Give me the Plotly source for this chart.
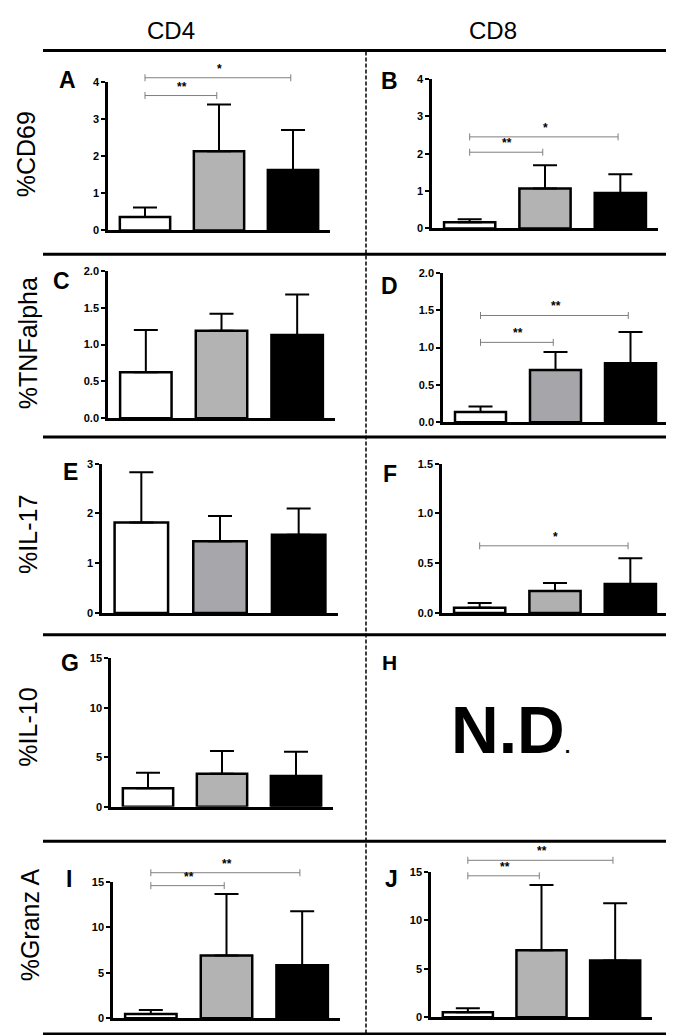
import plotly.graph_objects as go

W, H = 674, 1035

# ---------------- data ----------------
groups = ["Group 1", "Group 2", "Group 3"]
col_headers = ["CD4", "CD8"]
row_titles = ["%CD69", "%TNFalpha", "%IL-17", "%IL-10", "%Granz A"]

# CD69
cd69_cd4_mean = [0.36, 2.14, 1.63]
cd69_cd4_err = [0.26, 1.26, 1.08]
cd69_cd8_mean = [0.17, 1.07, 0.95]
cd69_cd8_err = [0.08, 0.62, 0.50]
# TNFalpha
tnf_cd4_mean = [0.625, 1.19, 1.13]
tnf_cd4_err = [0.575, 0.23, 0.55]
tnf_cd8_mean = [0.137, 0.70, 0.79]
tnf_cd8_err = [0.073, 0.24, 0.42]
# IL-17
il17_cd4_mean = [1.82, 1.44, 1.57]
il17_cd4_err = [1.01, 0.51, 0.53]
il17_cd8_mean = [0.053, 0.22, 0.29]
il17_cd8_err = [0.047, 0.08, 0.26]
# IL-10 (CD8 not determined)
il10_cd4_mean = [1.87, 3.33, 3.10]
il10_cd4_err = [1.56, 2.30, 2.47]
# Granzyme A
granz_cd4_mean = [0.47, 6.90, 5.82]
granz_cd4_err = [0.43, 6.77, 5.93]
granz_cd8_mean = [0.51, 6.92, 5.86]
granz_cd8_err = [0.41, 6.72, 5.90]

# significance brackets: (group i, group j, level, label)
sig_A = [(0, 1, 3.64, "**"), (0, 2, 4.12, "*")]
sig_B = [(0, 1, 2.04, "**"), (0, 2, 2.45, "*")]
sig_D = [(0, 1, 1.07, "**"), (0, 2, 1.43, "**")]
sig_F = [(0, 2, 0.675, "*")]
sig_I = [(0, 1, 14.58, "**"), (0, 2, 16.0, "**")]
sig_J = [(0, 1, 14.6, "**"), (0, 2, 16.2, "**")]

# ---------------- layout of panels (pixels) ----------------
panels = [
    ("A", cd69_cd4_mean, cd69_cd4_err, sig_A, "#b3b3b3", 100, 322, 219, 69, 4, 1, "d", 40, (59, 67)),
    ("B", cd69_cd8_mean, cd69_cd8_err, sig_B, "#b3b3b3", 424, 650, 217, 65.7, 4, 1, "d", 40, (381, 68)),
    ("C", tnf_cd4_mean, tnf_cd4_err, [], "#b3b3b3", 100, 327, 409, 260, 2, 0.5, ".1f", 246, (53, 270)),
    ("D", tnf_cd8_mean, tnf_cd8_err, sig_D, "#a5a5aa", 435, 660, 413, 262, 2, 0.5, ".1f", 246, (381, 275)),
    ("E", il17_cd4_mean, il17_cd4_err, [], "#a7a7ab", 94, 330, 606, 455, 3, 1, "d", 432, (63, 463)),
    ("F", il17_cd8_mean, il17_cd8_err, sig_F, "#b0b0b0", 434, 660, 606, 455, 1.5, 0.5, ".1f", 432, (382, 465)),
    ("G", il10_cd4_mean, il10_cd4_err, [], "#b3b3b3", 103, 325, 802, 652, 15, 5, "d", 631, (62, 657)),
    ("I", granz_cd4_mean, granz_cd4_err, sig_I, "#b3b3b3", 105, 332, 1016, 878, 15, 5, "d", 841, (61, 875)),
    ("J", granz_cd8_mean, granz_cd8_err, sig_J, "#b3b3b3", 423, 644, 1015, 868, 15, 5, "d", 841, (383, 875)),
]

FONT = "Liberation Sans, Arial, sans-serif"
NARROW = "Liberation Sans Narrow, Liberation Sans, Arial, sans-serif"

def px(x):
    return x / W

def py(y):
    return 1 - y / H

fig = go.Figure()
layout = dict(
    width=W, height=H, autosize=False,
    margin=dict(l=0, r=0, t=0, b=0),
    paper_bgcolor="white", plot_bgcolor="rgba(0,0,0,0)",
    showlegend=False,
    font=dict(family=FONT, color="black"),
)
annotations = []
shapes = []
n = len(panels)
xpos = list(range(len(groups)))

for k, (letter, mean, err, sig, grey, xl, xr, y0, y1, M, dt, fmt, ytop, lxy) in enumerate(panels, start=1):
    xa, ya, yb = f"x{k}", f"y{k}", f"y{k + n}"
    layout[f"xaxis{k}"] = dict(
        domain=[px(xl), px(xr)], range=[-0.5, 2.5], anchor=ya,
        showline=True, linewidth=2.5, linecolor="black",
        showticklabels=False, ticks="", showgrid=False, zeroline=False, fixedrange=True,
    )
    layout[f"yaxis{k}"] = dict(
        domain=[py(y0), py(y1)], range=[0, M], anchor=xa,
        showline=True, linewidth=2.5, linecolor="black",
        ticks="outside", ticklen=4, tickwidth=2, tickcolor="black",
        dtick=dt, tick0=0, tickformat=fmt,
        tickfont=dict(family=FONT, size=11, weight="bold", color="black"),
        showgrid=False, zeroline=False, fixedrange=True,
    )
    ext = M * (y0 - ytop) / (y0 - y1)
    layout[f"yaxis{k + n}"] = dict(
        domain=[py(y0), py(ytop)], range=[0, ext], anchor=xa,
        visible=False, showgrid=False, zeroline=False, fixedrange=True,
    )
    fig.add_trace(go.Bar(
        x=xpos, y=mean, xaxis=xa, yaxis=ya, width=0.68,
        marker=dict(color=["#ffffff", grey, "#000000"], line=dict(color="black", width=2.5)),
        error_y=dict(type="data", symmetric=False, array=err, arrayminus=[0] * len(err),
                     color="black", thickness=2, width=12),
        hoverinfo="skip",
    ))
    for (i, j, lev, lab) in sig:
        fig.add_trace(go.Scatter(
            x=[xpos[i], xpos[j] - 0.03], y=[lev, lev], xaxis=xa, yaxis=yb,
            mode="lines+markers",
            line=dict(color="#7f7f7f", width=1),
            marker=dict(symbol="line-ns-open", size=5, line=dict(color="#7f7f7f", width=1)),
            cliponaxis=False, hoverinfo="skip",
        ))
        annotations.append(dict(
            text=lab, x=(xpos[i] + xpos[j]) / 2, y=lev, xref=xa, yref=yb,
            xanchor="center", yanchor="middle", yshift=9, showarrow=False,
            font=dict(family=FONT, size=12, weight="bold", color="black"),
        ))
    annotations.append(dict(
        text=letter, x=px(lxy[0]), y=py(lxy[1]), xref="paper", yref="paper",
        xanchor="center", yanchor="middle", showarrow=False,
        font=dict(family=FONT, size=23, weight="bold", color="black"),
    ))

# panel H: not determined
annotations.append(dict(
    text="H", x=px(381), y=py(656), xref="paper", yref="paper",
    xanchor="center", yanchor="middle", showarrow=False,
    font=dict(family=FONT, size=21, weight="bold", color="black"),
))
annotations.append(dict(
    text="N.D<span style='font-size:20px'>.</span>", x=px(503), y=py(724), xref="paper", yref="paper",
    xanchor="center", yanchor="middle", showarrow=False,
    font=dict(family=FONT, size=66, weight="bold", color="black"),
))

# row titles
title_pos = [(18, 142), (20, 333), (20, 527), (20, 722), (22, 922)]
for t, (tx, ty) in zip(row_titles, title_pos):
    annotations.append(dict(
        text=t, x=px(tx), y=py(ty), xref="paper", yref="paper",
        xanchor="center", yanchor="middle", showarrow=False, textangle=-90,
        font=dict(family=FONT, size=25, color="black"),
    ))

# column headers
for t, hx in zip(col_headers, [163, 485]):
    annotations.append(dict(
        text=t, x=px(hx), y=py(17), xref="paper", yref="paper",
        xanchor="center", yanchor="middle", showarrow=False,
        font=dict(family=NARROW, size=24, color="black"),
    ))

# separators
for yy in [37, 243, 428, 628, 837, 1032]:
    shapes.append(dict(type="line", xref="paper", yref="paper",
                       x0=px(35), x1=px(670), y0=py(yy), y1=py(yy),
                       line=dict(color="black", width=3)))
shapes.append(dict(type="line", xref="paper", yref="paper",
                   x0=px(358), x1=px(358), y0=py(38), y1=py(1035),
                   line=dict(color="black", width=1.5, dash="4px,2px")))

layout["annotations"] = annotations
layout["shapes"] = shapes
fig.update_layout(**layout)
fig.write_html("out.html")
